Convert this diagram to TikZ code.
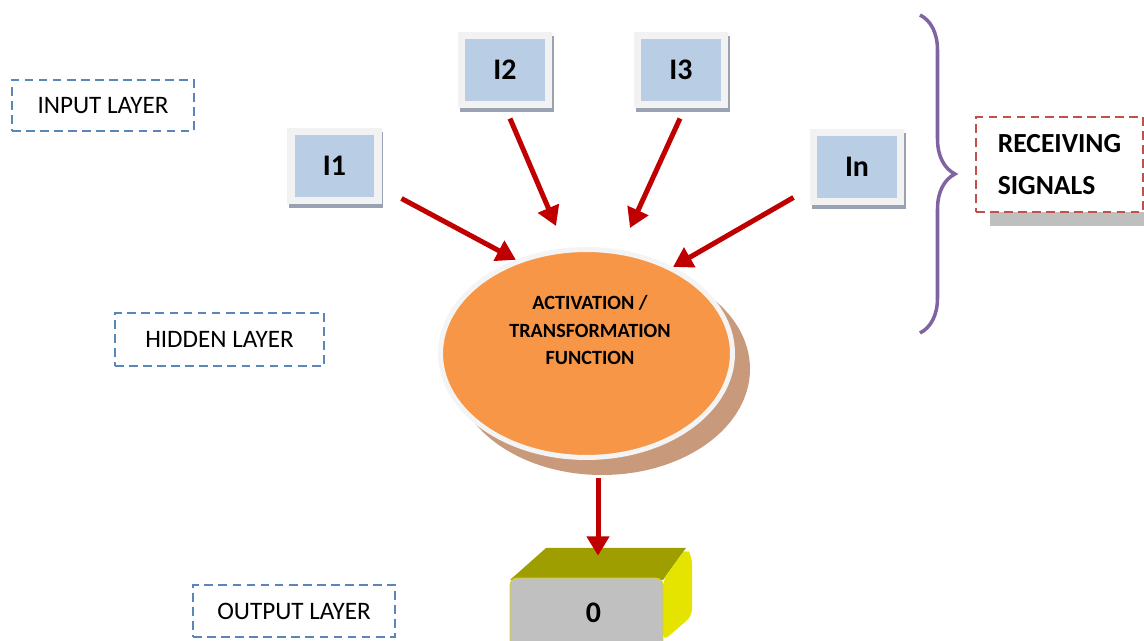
\documentclass[tikz,border=0pt]{standalone}
\usepackage{fontspec}
\setmainfont{Carlito}
\usepackage{tikz}
\usetikzlibrary{positioning}
\usetikzlibrary{arrows.meta,shapes.geometric,shadows,decorations.pathreplacing}
\definecolor{inblue}{HTML}{B9CDE5}
\definecolor{frame}{HTML}{F2F2F2}
\definecolor{shade}{HTML}{98A2B3}
\definecolor{layerblue}{HTML}{5B86B8}
\definecolor{recred}{HTML}{C0504D}
\definecolor{sigred}{HTML}{C00000}
\definecolor{actorange}{HTML}{F79646}
\definecolor{actshadow}{HTML}{C9997B}
\definecolor{ring}{HTML}{F4F4F4}
\definecolor{brc}{HTML}{8064A2}
\definecolor{boxgray}{HTML}{C0C0C0}
\definecolor{boxtop}{HTML}{9E9E00}
\definecolor{boxside}{HTML}{E4E400}
\definecolor{boxedge}{HTML}{D6D600}
\definecolor{barshade}{HTML}{BFBFBF}

\begin{document}
\begin{tikzpicture}[x=0.02cm,y=-0.02cm,
	layer/.style={draw=layerblue,dash pattern=on 5pt off 3pt,line width=1pt,inner sep=0pt,font=\fontsize{14.3}{17}\selectfont},
	inbox/.style={fill=inblue,draw=frame,line width=4pt,minimum width=1.74cm,minimum height=1.38cm,inner sep=0pt,font=\bfseries\fontsize{17}{20}\selectfont,
		drop shadow={shadow xshift=1pt,shadow yshift=-2.5pt,fill=shade,draw=shade,line width=4pt,opacity=1}},
	sig/.style={draw=sigred,line width=2.85pt,-{Triangle[length=11pt,width=12.5pt]}}]
	\useasboundingbox (0,0) rectangle (1144,641);
	\node[layer,minimum width=3.64cm,minimum height=1.02cm] (inl) at (103,105.5) {INPUT LAYER};
	\node[layer,minimum width=4.18cm,minimum height=1.06cm] (hidl) at (219.5,339.5) {HIDDEN LAYER};
	\node[layer,minimum width=4.04cm,minimum height=1.04cm] (outl) at (294,611) {OUTPUT LAYER};
	\node[inbox] (i1) at (334.5,166) {I1};
	\node[inbox] (i2) at (505,70) {I2};
	\node[inbox] (i3) at (681,70) {I3};
	\node[inbox] (ixn) at (857,167) {In};
	\fill[actshadow] (602,369) ellipse [x radius=148, y radius=106];
	\node[ellipse,fill=actorange,draw=ring,line width=2.85pt,minimum width=5.84cm,minimum height=4.16cm,inner sep=0pt] (act) at (586.5,353.5) {};
	\node[align=center,font=\bfseries\fontsize{11.5}{15.9}\selectfont] (acttxt) at (590,330) {ACTIVATION /\\TRANSFORMATION\\FUNCTION};
	\fill[boxtop] (510,580) -- (546,548) -- (686,548) -- (663,580) -- cycle;
	\fill[boxside,rounded corners=4pt] (663,580) -- (686,548) -- (692,556) -- (692,616) -- (663,641) -- cycle;
	\node[draw=boxedge,fill=boxgray,rounded corners=4pt,minimum width=3.06cm,minimum height=1.4cm,font=\bfseries\fontsize{17}{20}\selectfont] (out) at (586.5,613) {\hspace*{0.28cm}0};
	\draw[sig] ([shift={(20,-5.5)}]i1.south east) -- (act.127);
	\draw[sig] ([shift={(5,10.5)}]i2.south) -- ([shift={(-30.5,-21)}]act.north);
	\draw[sig] ([shift={(-1,10.5)}]i3.south) -- ([shift={(43.5,-19)}]act.north);
	\draw[sig] ([shift={(-16.5,-7.5)}]ixn.south west) -- (act.45);
	\draw[sig] ([shift={(11.5,18)}]act.south) -- ([shift={(11.5,-22)}]out.north);
	\draw[decorate,decoration={brace,amplitude=0.7cm},draw=brc,line width=2pt] (920,15) -- (920,333);
	\fill[barshade] (990,212) rectangle (1144,226);
	\node[draw=recred,dash pattern=on 5pt off 3pt,line width=1pt,fill=white,minimum width=3.34cm,minimum height=1.9cm,align=left,font=\bfseries\fontsize{15.7}{23.9}\selectfont] (recv) at (1059.5,164.5) {RECEIVING\\SIGNALS};
\end{tikzpicture}
\end{document}
